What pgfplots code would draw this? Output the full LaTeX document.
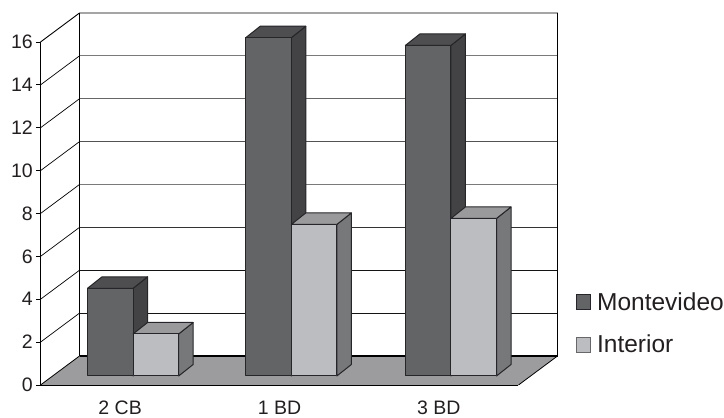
\documentclass[border=0pt]{standalone}
\usepackage{fontspec}
\setmainfont{Liberation Sans}
\usepackage{pgfplots}
\pgfplotsset{compat=1.18}

\definecolor{txt}{HTML}{231F20}
\definecolor{edge}{HTML}{26262A}
\definecolor{floorc}{HTML}{9C9C9E}
\definecolor{dfront}{HTML}{636466}
\definecolor{dside}{HTML}{434345}
\definecolor{dtop}{HTML}{4E4E50}
\definecolor{lfront}{HTML}{BCBDC0}
\definecolor{lside}{HTML}{77787A}
\definecolor{ltop}{HTML}{9A9A9C}

% depth of the chart box, in axis units
\newcommand{\boxdx}{0.2448}
\newcommand{\boxdy}{1.3526}
% depth of a column, in axis units
\newcommand{\bardx}{0.091}
\newcommand{\bardy}{0.536}
\newcommand{\barw}{0.286}

% one column: left edge, value, front, side and top colours
\newcommand{\column}[5]{%
  \pgfmathsetmacro{\xl}{#1}%
  \pgfmathsetmacro{\xr}{#1+\barw}%
  \pgfmathsetmacro{\xbr}{#1+\barw+\bardx}%
  \pgfmathsetmacro{\xbl}{#1+\bardx}%
  \pgfmathsetmacro{\yt}{#2}%
  \pgfmathsetmacro{\ybt}{#2+\bardy}%
  \edef\drawcolumn{%
    \noexpand\addplot[draw=edge,line width=1pt,fill=#4,line join=round] coordinates
      {(\xr,0) (\xbr,\bardy) (\xbr,\ybt) (\xr,\yt)} -- cycle;
    \noexpand\addplot[draw=edge,line width=1pt,fill=#5,line join=round] coordinates
      {(\xl,\yt) (\xr,\yt) (\xbr,\ybt) (\xbl,\ybt)} -- cycle;
    \noexpand\addplot[draw=edge,line width=1pt,fill=#3,line join=round] coordinates
      {(\xl,0) (\xr,0) (\xr,\yt) (\xl,\yt)} -- cycle;
  }%
  \drawcolumn
}

% a gridline running along the left wall and across the back wall
\newcommand{\gridline}[2]{%
  \pgfmathsetmacro{\yb}{#1+\boxdy}%
  \edef\drawgrid{%
    \noexpand\addplot[black,line width=0.7pt] coordinates {(0,#1) (\boxdx,\yb)};
    \noexpand\addplot[#2,line width=1.1pt] coordinates {(\boxdx,\yb) (3+\boxdx,\yb)};
  }%
  \drawgrid
}

\begin{document}
\begin{tikzpicture}[x=1pt,y=1pt]
\useasboundingbox (0,0) rectangle (724,418);

% walls, floor, scale
\begin{axis}[
  at={(40.5pt,33pt)}, anchor=south west,
  scale only axis, width=478pt, height=343pt,
  xmin=0, xmax=3, ymin=0, ymax=16,
  clip=false,
  axis x line=bottom, axis y line=left,
  axis line style={-,black,line width=0.9pt},
  tick align=outside,
  major tick length=4.5pt,
  tick style={black,line width=0.8pt},
  ytick={0,2,...,16},
  xtick={0.5,1.5,2.5},
  xticklabels={2 CB,1 BD,3 BD},
  x tick style={draw=none},
  extra x ticks={0,1,2,3},
  extra x tick labels={},
  extra x tick style={major tick style={draw=black,line width=0.8pt}},
  /pgf/number format/assume math mode=true,
  tick label style={font=\fontsize{19.5}{20}\selectfont,text=txt},
  yticklabel style={inner sep=0pt,xshift=-3pt},
  xticklabel style={inner sep=0pt,yshift=-11pt},
]
\addplot[draw=none,fill=floorc] coordinates
  {(0,0) (3,0) (3.2448,1.3526) (0.2448,1.3526)} -- cycle;
\gridline{14}{black!52}
\gridline{12}{black!60}
\gridline{10}{black!68}
\gridline{8}{black!52}
\gridline{6}{black!80}
\gridline{4}{black!92}
\gridline{2}{black!92}
% back edge of the floor
\addplot[black,line width=1.6pt] coordinates {(0.2448,1.3526) (3.2448,1.3526)};
% floor edges and the frame of the walls
\addplot[black,line width=0.8pt] coordinates {(0,0) (0.2448,1.3526)};
\addplot[black,line width=0.8pt] coordinates {(3,0) (3.2448,1.3526)};
\addplot[black,line width=0.9pt] coordinates {(0,16) (0.2448,17.3526) (3.2448,17.3526) (3.2448,1.3526)};
\addplot[black,line width=0.9pt] coordinates {(0.2448,1.3526) (0.2448,17.3526)};
\end{axis}

% columns, standing a little inside the floor
\begin{axis}[
  at={(40.5pt,33pt)}, anchor=south west,
  scale only axis, width=478pt, height=343pt,
  xmin=0, xmax=3, ymin=-0.42, ymax=15.58,
  clip=false,
  hide axis,
  legend style={
    at={(1.1195,0.276)}, anchor=north west,
    draw=none, fill=none, inner sep=0pt, outer sep=0pt,
    font=\fontsize{24.5}{25}\selectfont, text=txt,
    row sep=19.5pt,
  },
  legend cell align=left,
]
\addlegendimage{legend image code/.code={
  \draw[draw=edge,line width=1pt,fill=dfront] (0pt,-7.5pt) rectangle (14.5pt,7.5pt);}}
\addlegendentry{\hspace{4pt}Montevideo}
\addlegendimage{legend image code/.code={
  \draw[draw=edge!70,line width=1pt,fill=lfront] (0pt,-7.5pt) rectangle (14.5pt,7.5pt);}}
\addlegendentry{\hspace{4pt}Interior}

\column{0.295}{4.09}{dfront}{dside}{dtop}
\column{0.581}{1.96}{lfront}{lside}{ltop}
\column{1.288}{15.78}{dfront}{dside}{dtop}
\column{1.574}{7.07}{lfront}{lside}{ltop}
\column{2.290}{15.42}{dfront}{dside}{dtop}
\column{2.576}{7.35}{lfront}{lside}{ltop}
\end{axis}
\end{tikzpicture}
\end{document}
